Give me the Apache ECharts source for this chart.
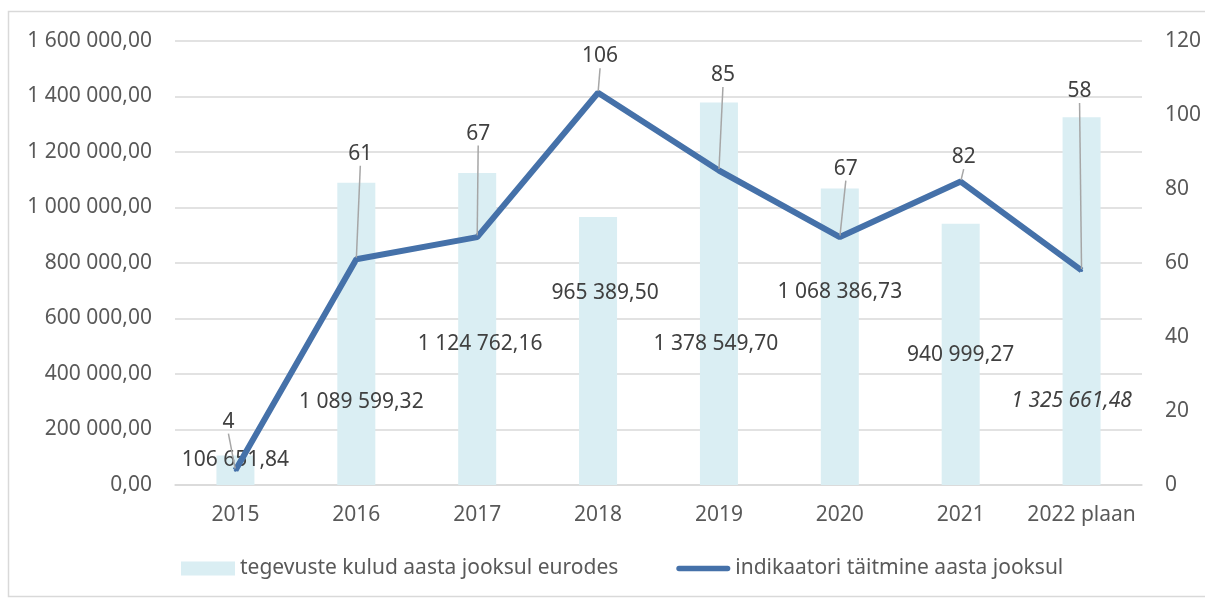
<!DOCTYPE html>
<html>
<head>
<meta charset="utf-8">
<script src="https://cdn.jsdelivr.net/npm/echarts@6/dist/echarts.min.js"></script>
<style>
  html, body { margin: 0; padding: 0; background: #fff; }
  #chart { width: 1205px; height: 599px; }
</style>
</head>
<body>
<div id="chart"></div>
<script>
const years = ["2015", "2016", "2017", "2018", "2019", "2020", "2021", "2022 plaan"]
const kulud = [106651.84, 1089599.32, 1124762.16, 965389.5, 1378549.7, 1068386.73, 940999.27, 1325661.48]
const indikaator = [4, 61, 67, 106, 85, 67, 82, 58]
const leftTicks = { min: 0, max: 1600000, interval: 200000 }
const rightTicks = { min: 0, max: 120, interval: 20 }

// label nudges (Excel had them dragged around by hand)
const barLabelShift = [[0, -8], [5, -66], [3, -124], [7, -175], [-3, -124], [0, -176], [0, -113], [-10, -67]]
const lineLabelShift = [[-7, -30], [4, -87], [1, -85], [2, -18], [4, -77], [6, -50], [3, -6], [-2, -161]]

const fmt = (v) => {
  const parts = v.toFixed(2).split(".")
  return parts[0].replace(/\B(?=(\d{3})+(?!\d))/g, " ") + "," + parts[1]
}

const font = "Noto Sans"
const chart = echarts.init(document.getElementById("chart"))

const option = {
  backgroundColor: "#fff",
  animation: false,
  textStyle: { fontFamily: font },
  graphic: [{
    type: "rect",
    shape: { x: 8.5, y: 11.5, width: 1210, height: 585 },
    style: { fill: "none", stroke: "#d9d9d9", lineWidth: 1.5 },
    silent: true
  }],
  legend: {
    left: 181,
    top: 558,
    padding: 0,
    itemWidth: 54,
    itemHeight: 14,
    itemGap: 58,
    textStyle: { color: "#595959", fontSize: 21, fontFamily: font },
    data: [
      { name: "tegevuste kulud aasta jooksul eurodes", icon: "rect" },
      { name: "indikaatori täitmine aasta jooksul", icon: "path://M3,0 H57 A3,3 0 0 1 57,6 H3 A3,3 0 0 1 3,0 Z" }
    ]
  },
  grid: { left: 175, right: 63, top: 41, bottom: 114 },
  xAxis: {
    type: "category",
    data: years,
    axisLine: { show: true, lineStyle: { color: "#d9d9d9", width: 1.5 } },
    axisTick: { show: false },
    axisLabel: { color: "#595959", fontSize: 21, margin: 20, interval: 0 }
  },
  yAxis: [
    {
      type: "value",
      min: leftTicks.min,
      max: leftTicks.max,
      interval: leftTicks.interval,
      axisLine: { show: false },
      axisTick: { show: false },
      splitLine: { lineStyle: { color: "#d9d9d9", width: 1.5 } },
      axisLabel: { color: "#595959", fontSize: 21, margin: 23, formatter: fmt }
    },
    {
      type: "value",
      min: rightTicks.min,
      max: rightTicks.max,
      interval: rightTicks.interval,
      axisLine: { show: false },
      axisTick: { show: false },
      splitLine: { show: false },
      axisLabel: { color: "#595959", fontSize: 21, margin: 23 }
    }
  ],
  series: [
    {
      name: "tegevuste kulud aasta jooksul eurodes",
      type: "bar",
      barWidth: 38,
      itemStyle: { color: "#daeef3" },
      data: kulud.map((v, i) => ({
        value: v,
        label: {
          show: true,
          position: "insideBottom",
          distance: 5,
          offset: barLabelShift[i],
          color: "#404040",
          fontSize: 21,
          lineHeight: 24,
          fontStyle: i === kulud.length - 1 ? "italic" : "normal",
          formatter: (p) => fmt(p.value)
        }
      }))
    },
    {
      name: "indikaatori täitmine aasta jooksul",
      type: "line",
      yAxisIndex: 1,
      z: 5,
      symbol: "circle",
      symbolSize: 3,
      showSymbol: true,
      itemStyle: { color: "#4571a9" },
      lineStyle: { color: "#4571a9", width: 6 },
      label: {
        show: true,
        position: "top",
        distance: 5,
        color: "#404040",
        fontSize: 21,
        lineHeight: 24
      },
      labelLine: {
        show: true,
        lineStyle: { color: "#a6a6a6", width: 1.5 }
      },
      labelLayout: (p) => ({ dx: lineLabelShift[p.dataIndex][0], dy: lineLabelShift[p.dataIndex][1] }),
      data: indikaator
    }
  ]
}

chart.setOption(option)
</script>
</body>
</html>
